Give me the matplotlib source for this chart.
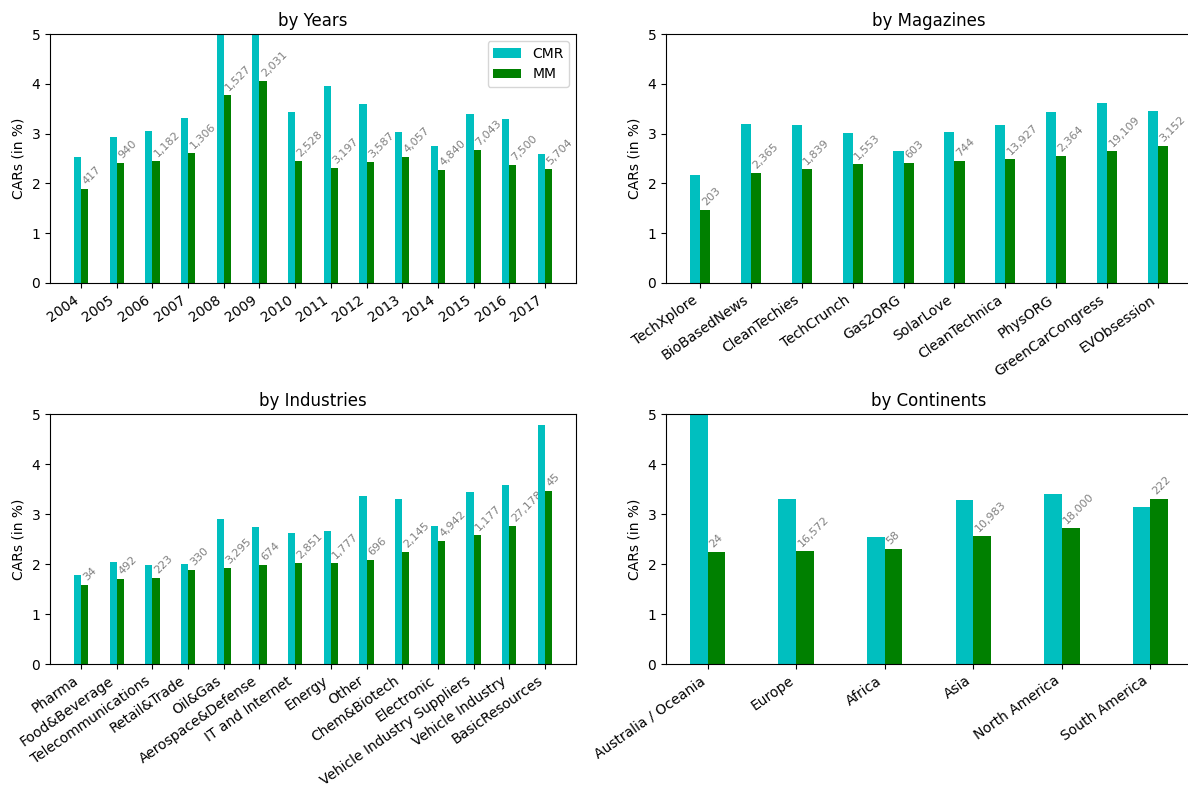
import numpy as np
import matplotlib
matplotlib.use('Agg')
import matplotlib.pyplot as plt

# by years
years = ['2004', '2005', '2006', '2007', '2008', '2009', '2010', '2011',
         '2012', '2013', '2014', '2015', '2016', '2017']
cmr_years = [2.53, 2.93, 3.05, 3.31, 6.20, 5.90, 3.43, 3.96, 3.59, 3.03, 2.75, 3.39, 3.29, 2.59]
mm_years = [1.89, 2.41, 2.45, 2.61, 3.78, 4.06, 2.45, 2.31, 2.43, 2.53, 2.27, 2.67, 2.37, 2.29]
n_years = [417, 940, 1182, 1306, 1527, 2031, 2528, 3197, 3587, 4057, 4840, 7043, 7500, 5704]

# by magazines
magazines = ['TechXplore', 'BioBasedNews', 'CleanTechies', 'TechCrunch', 'Gas2ORG',
             'SolarLove', 'CleanTechnica', 'PhysORG', 'GreenCarCongress', 'EVObsession']
cmr_mag = [2.17, 3.19, 3.17, 3.01, 2.65, 3.03, 3.17, 3.43, 3.61, 3.45]
mm_mag = [1.47, 2.21, 2.29, 2.39, 2.41, 2.45, 2.49, 2.55, 2.65, 2.75]
n_mag = [203, 2365, 1839, 1553, 603, 744, 13927, 2364, 19109, 3152]

# by industries
industries = ['Pharma', 'Food&Beverage', 'Telecommunications', 'Retail&Trade', 'Oil&Gas',
              'Aerospace&Defense', 'IT and Internet', 'Energy', 'Other', 'Chem&Biotech',
              'Electronic', 'Vehicle Industry Suppliers', 'Vehicle Industry', 'BasicResources']
cmr_ind = [1.78, 2.04, 1.98, 2.00, 2.90, 2.74, 2.62, 2.66, 3.36, 3.30, 2.76, 3.44, 3.58, 4.78]
mm_ind = [1.58, 1.70, 1.72, 1.88, 1.92, 1.98, 2.02, 2.02, 2.08, 2.24, 2.46, 2.58, 2.76, 3.46]
n_ind = [34, 492, 223, 330, 3295, 674, 2851, 1777, 696, 2145, 4942, 1177, 27178, 45]

# by continents
continents = ['Australia / Oceania', 'Europe', 'Africa', 'Asia', 'North America', 'South America']
cmr_cont = [5.80, 3.30, 2.54, 3.28, 3.40, 3.14]
mm_cont = [2.24, 2.26, 2.30, 2.56, 2.72, 3.30]
n_cont = [24, 16572, 58, 10983, 18000, 222]

W, H = 1188, 785
fig = plt.figure(figsize=(W / 100, H / 100), dpi=100)


def px_axes(x0, x1, y0, y1):
    return fig.add_axes([x0 / W, 1 - y1 / H, (x1 - x0) / W, (y1 - y0) / H])


def panel(ax, title, cats, cmr, mm, counts, legend=False):
    x = np.arange(len(cats))
    w = 0.2
    ax.bar(x - w, cmr, w, align='edge', color='c', label='CMR', zorder=2)
    ax.bar(x, mm, w, align='edge', color='green', label='MM', zorder=2)
    for xi, h, n in zip(x, mm, counts):
        ax.text(xi, h + 0.05, '{:,}'.format(n), rotation=45, fontsize=8,
                color='gray', ha='left', va='bottom', zorder=1)
    ax.set_ylim(0, 5)
    ax.set_xticks(x)
    ax.set_xticklabels(cats, rotation=35, ha='right')
    ax.set_ylabel('CARs (in %)')
    ax.set_title(title)
    if legend:
        ax.legend(loc='upper right')


ax1 = px_axes(50, 576, 34, 283)
ax2 = px_axes(666, 1192, 34, 283)
ax3 = px_axes(50, 576, 414, 664)
ax4 = px_axes(666, 1192, 414, 664)

panel(ax1, 'by Years', years, cmr_years, mm_years, n_years, legend=True)
panel(ax2, 'by Magazines', magazines, cmr_mag, mm_mag, n_mag)
panel(ax3, 'by Industries', industries, cmr_ind, mm_ind, n_ind)
panel(ax4, 'by Continents', continents, cmr_cont, mm_cont, n_cont)

fig.savefig('out.png', dpi=100)
